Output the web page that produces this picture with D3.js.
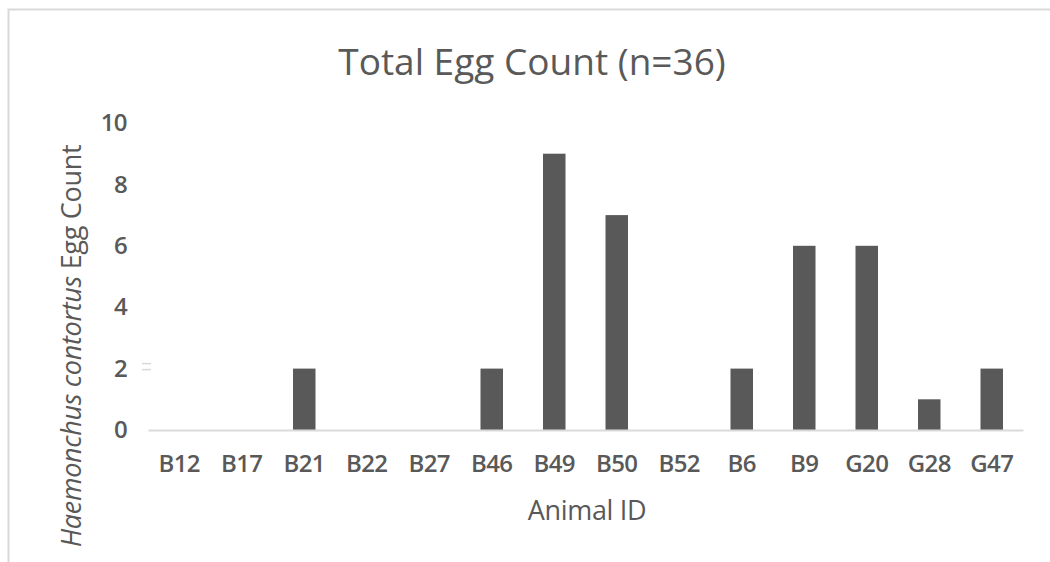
<!DOCTYPE html>
<html>
<head>
<meta charset="utf-8">
<script src="https://cdn.jsdelivr.net/npm/d3@7"></script>
<style>
  html, body { margin: 0; padding: 0; background: #fff; }
  svg { display: block; }
  text { font-family: "Open Sans", "Noto Sans", sans-serif; }
</style>
</head>
<body>
<svg id="chart" width="1050" height="562"></svg>
<script>
// Egg counts per animal
const animals = ["B12", "B17", "B21", "B22", "B27", "B46", "B49", "B50", "B52", "B6", "B9", "G20", "G28", "G47"];
const eggCounts = [0, 0, 2, 0, 0, 2, 9, 7, 0, 2, 6, 6, 1, 2];
const yTicks = [0, 2, 4, 6, 8, 10];
const titleText = "Total Egg Count (n=36)";
const xTitle = "Animal ID";

const svg = d3.select("#chart");
const W = 1050, H = 562;
const margin = { left: 148, right: 27, top: 123, bottom: 132 };

// chart frame (top and left edges visible)
svg.append("path")
  .attr("d", `M8.5,${H} V9.5 H${W}`)
  .attr("fill", "none")
  .attr("stroke", "#d9d9d9")
  .attr("stroke-width", 2);

const x = d3.scaleBand()
  .domain(animals)
  .range([margin.left, W - margin.right])
  .paddingInner(0.64)
  .paddingOuter(0.32);

const y = d3.scaleLinear()
  .domain([0, 10])
  .range([H - margin.bottom, margin.top]);

// bars
svg.append("g")
  .selectAll("rect")
  .data(animals.map((a, i) => ({ a, v: eggCounts[i] })))
  .join("rect")
  .attr("x", d => x(d.a))
  .attr("width", x.bandwidth())
  .attr("y", d => y(d.v))
  .attr("height", d => y(0) - y(d.v))
  .attr("fill", "#595959");

// x axis baseline and category labels
const xAxis = svg.append("g")
  .attr("transform", `translate(0,${y(0)})`)
  .call(d3.axisBottom(x).tickSize(0).tickPadding(25).tickSizeOuter(0));
xAxis.select(".domain").attr("stroke", "#d9d9d9").attr("stroke-width", 2);
xAxis.selectAll("text")
  .attr("fill", "#595959")
  .attr("font-size", 24)
  .attr("font-weight", 600)
  .attr("font-family", "\"Open Sans\", sans-serif")
  .attr("letter-spacing", "-0.6");

// y axis labels
const yAxis = svg.append("g")
  .attr("transform", `translate(${margin.left},0)`)
  .call(d3.axisLeft(y).tickValues(yTicks).tickSize(0).tickPadding(21));
yAxis.select(".domain").remove();
yAxis.selectAll("text")
  .attr("fill", "#595959")
  .attr("font-size", 24)
  .attr("font-weight", 600)
  .attr("font-family", "\"Open Sans\", sans-serif")
  .attr("letter-spacing", "-0.6");

// faint stray marks beside the "2" tick
svg.append("g")
  .attr("stroke", "#d9d9d9")
  .attr("stroke-width", 1.5)
  .selectAll("line")
  .data([-3, 3])
  .join("line")
  .attr("x1", 142).attr("x2", 151)
  .attr("y1", d => y(2) - 2 + d).attr("y2", d => y(2) - 2 + d);

// title
svg.append("text")
  .attr("x", 532)
  .attr("y", 75)
  .attr("text-anchor", "middle")
  .attr("font-size", 37)
  .attr("fill", "#595959")
  .attr("letter-spacing", "0")
  .text(titleText);

// x axis title
svg.append("text")
  .attr("x", 587)
  .attr("y", 520)
  .attr("text-anchor", "middle")
  .attr("font-size", 27)
  .attr("fill", "#595959")
  .attr("letter-spacing", "-0.3")
  .text(xTitle);

// y axis title with italic species name
const yt = svg.append("text")
  .attr("transform", "translate(81,346) rotate(-90)")
  .attr("text-anchor", "middle")
  .attr("font-size", 27)
  .attr("fill", "#595959")
  .attr("letter-spacing", "-0.3");
yt.append("tspan").attr("font-style", "italic").text("Haemonchus contortus");
yt.append("tspan").text(" Egg Count");
</script>
</body>
</html>
